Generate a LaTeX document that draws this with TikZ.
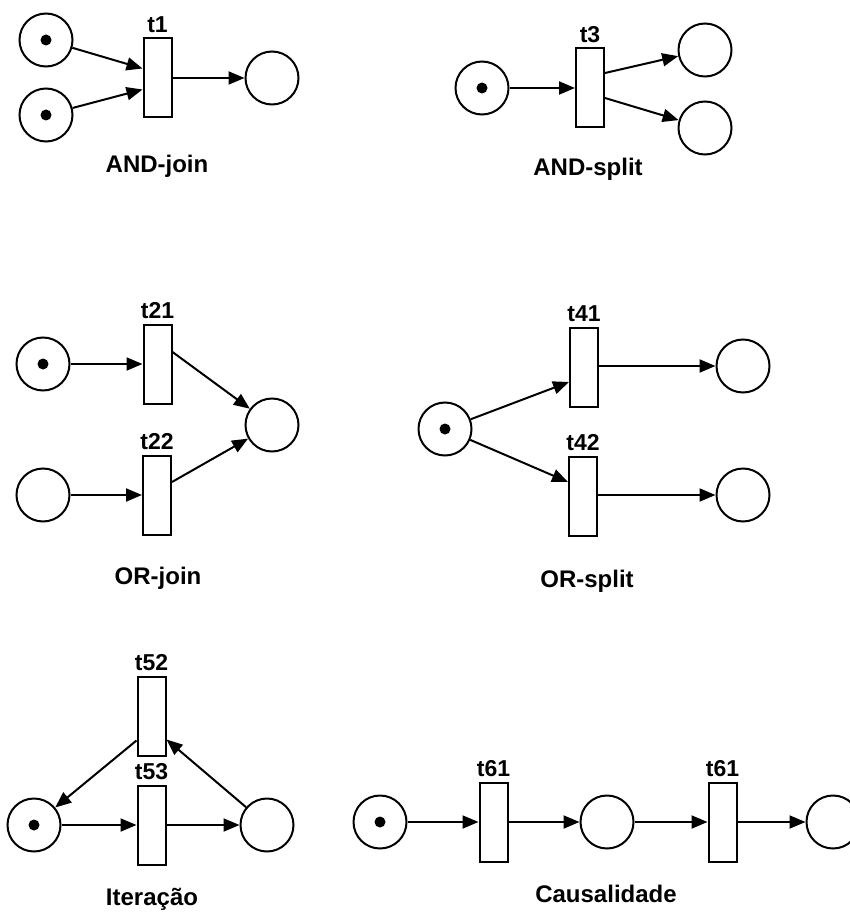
\documentclass[tikz,border=0pt]{standalone}
\usepackage{fontspec}
\setmainfont{Liberation Sans}
\usetikzlibrary{arrows.meta,calc}
\begin{document}
\begin{tikzpicture}[x=1pt,y=-1pt,
  place/.style={circle,draw,line width=2pt,minimum size=53pt,inner sep=0pt},
  marked/.style={place,path picture={\fill (path picture bounding box.center) circle (5.5pt);}},
  trans/.style={rectangle,draw,line width=2pt,minimum width=28pt,minimum height=79pt,inner sep=0pt},
  tlabel/.style={anchor=base,inner sep=0pt,font=\fontsize{23}{27}\selectfont\bfseries},
  caption/.style={anchor=base,inner sep=0pt,font=\fontsize{24}{28}\selectfont\bfseries},
  arc/.style={line width=2pt,-{Triangle[length=16pt,width=13pt]}}]
\useasboundingbox (0,0) rectangle (850,917);

% AND-join
\node[marked] (pa1) at (46,40) {};
\node[marked] (pa2) at (46,115) {};
\node[trans] (t1) at (157.5,78) {};
\node[place] (pa3) at (272,78) {};
\node[tlabel] (lt1) at ($(t1.north)+(0,-5)$) {t1};
\node[caption] (capa) at (157,173) {AND-join};
\draw[arc] (pa1) -- ($(t1.west)+(0,-9.5)$);
\draw[arc] (pa2) -- ($(t1.west)+(0,11.5)$);
\draw[arc] (t1.east) -- (pa3);

% AND-split
\node[marked] (pb1) at (482,88) {};
\node[trans] (t3) at (590,88) {};
\node[place] (pb2) at (705,50) {};
\node[place] (pb3) at (705,128) {};
\node[tlabel] (lt3) at ($(t3.north)+(0,-5)$) {t3};
\node[caption] (capb) at (588,176) {AND-split};
\draw[arc] (pb1) -- (t3.west);
\draw[arc] ($(t3.east)+(0,-15)$) -- (pb2);
\draw[arc] ($(t3.east)+(0,10)$) -- (pb3);

% OR-join
\node[marked] (pc1) at (43,364) {};
\node[place] (pc2) at (43,495) {};
\node[trans] (t21) at (157.5,364) {};
\node[trans] (t22) at (157,495) {};
\node[place] (pc3) at (272,425) {};
\node[tlabel] (lt21) at ($(t21.north)+(0,-5)$) {t21};
\node[tlabel] (lt22) at ($(t22.north)+(0,-5)$) {t22};
\node[caption] (capc) at (158,584) {OR-join};
\draw[arc] (pc1) -- (t21.west);
\draw[arc] (pc2) -- (t22.west);
\draw[arc] ($(t21.east)+(0,-12)$) -- (pc3);
\draw[arc] ($(t22.east)+(0,-13)$) -- (pc3);

% OR-split
\node[marked] (pd1) at (445,429) {};
\node[trans] (t41) at (584,367) {};
\node[trans] (t42) at (583,496) {};
\node[place] (pd2) at (743,366) {};
\node[place] (pd3) at (743,495) {};
\node[tlabel] (lt41) at ($(t41.north)+(0,-5)$) {t41};
\node[tlabel] (lt42) at ($(t42.north)+(0,-5)$) {t42};
\node[caption] (capd) at (587,587) {OR-split};
\draw[arc] (pd1) -- ($(t41.west)+(0,15)$);
\draw[arc] (pd1) -- ($(t42.west)+(0,-14)$);
\draw[arc] ($(t41.east)+(0,-1)$) -- (pd2);
\draw[arc] ($(t42.east)+(0,-1)$) -- (pd3);

% Iteracao
\node[marked] (pe1) at (34,825) {};
\node[place] (pe2) at (267,825) {};
\node[trans] (t52) at (151.5,716) {};
\node[trans] (t53) at (151.5,825) {};
\node[tlabel] (lt52) at ($(t52.north)+(0,-5)$) {t52};
\node[tlabel] (lt53) at ($(t53.north)+(0,-5)$) {t53};
\node[caption] (cape) at (152,905) {Iteração};
\draw[arc] (pe1) -- (t53.west);
\draw[arc] (t53.east) -- (pe2);
\draw[arc] ($(t52.south west)+(0,-16)$) -- (pe1);
\draw[arc] (pe2) -- ($(t52.south east)+(0,-17)$);

% Causalidade
\node[marked] (pf1) at (380,822) {};
\node[trans] (t61a) at (493.5,822) {};
\node[place] (pf2) at (607,822) {};
\node[trans] (t61b) at (722.5,822) {};
\node[place] (pf3) at (833,822) {};
\node[tlabel] (lt61a) at ($(t61a.north)+(0,-5)$) {t61};
\node[tlabel] (lt61b) at ($(t61b.north)+(0,-5)$) {t61};
\node[caption] (capf) at (606,902) {Causalidade};
\draw[arc] (pf1) -- (t61a.west);
\draw[arc] (t61a.east) -- (pf2);
\draw[arc] (pf2) -- (t61b.west);
\draw[arc] (t61b.east) -- (pf3);
\end{tikzpicture}
\end{document}
